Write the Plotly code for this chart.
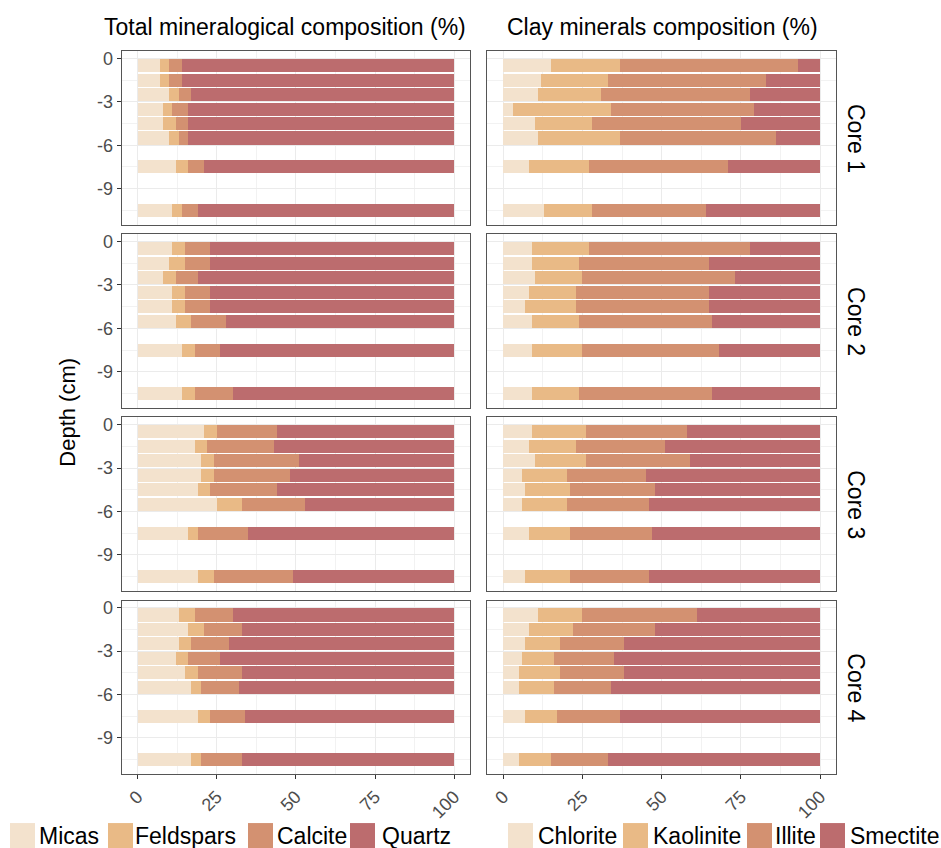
import plotly.graph_objects as go

W, H = 941, 848

cores = ["Core 1", "Core 2", "Core 3", "Core 4"]
depths = [-0.5, -1.5, -2.5, -3.5, -4.5, -5.5, -7.5, -10.5]
x_ticks = [0, 25, 50, 75, 100]
y_ticks = [0, -3, -6, -9]

total_names = ["Micas", "Feldspars", "Calcite", "Quartz"]
clay_names = ["Chlorite", "Kaolinite", "Illite", "Smectite"]
colors = ["#F3E2CD", "#E9BA86", "#D39171", "#BC6C6E"]

micas = [
    [7, 7, 10, 8, 8, 10, 12, 11],
    [11, 10, 8, 11, 11, 12, 14, 14],
    [21, 18, 20, 20, 19, 25, 16, 19],
    [13, 16, 13, 12, 15, 17, 19, 17],
]
feldspars = [
    [3, 3, 3, 3, 4, 3, 4, 3],
    [4, 5, 4, 4, 4, 5, 4, 4],
    [4, 4, 4, 4, 4, 8, 3, 5],
    [5, 5, 4, 4, 4, 3, 4, 3],
]
calcite = [
    [4, 4, 4, 5, 4, 3, 5, 5],
    [8, 8, 7, 8, 8, 11, 8, 12],
    [19, 21, 27, 24, 21, 20, 16, 25],
    [12, 12, 12, 10, 14, 12, 11, 13],
]
quartz = [
    [86, 86, 83, 84, 84, 84, 79, 81],
    [77, 77, 81, 77, 77, 72, 74, 70],
    [56, 57, 49, 52, 56, 47, 65, 51],
    [70, 67, 71, 74, 67, 68, 66, 67],
]

chlorite = [
    [15, 12, 11, 3, 10, 11, 8, 13],
    [9, 9, 10, 8, 7, 9, 9, 9],
    [9, 8, 10, 6, 7, 6, 8, 7],
    [11, 8, 7, 6, 5, 5, 7, 5],
]
kaolinite = [
    [22, 21, 20, 31, 18, 26, 19, 15],
    [18, 15, 15, 15, 16, 15, 16, 15],
    [17, 15, 16, 14, 14, 14, 13, 14],
    [14, 14, 11, 10, 13, 11, 10, 10],
]
illite = [
    [56, 50, 47, 45, 47, 49, 44, 36],
    [51, 41, 48, 42, 42, 42, 43, 42],
    [32, 28, 33, 25, 27, 26, 26, 25],
    [36, 26, 20, 19, 20, 18, 20, 18],
]
smectite = [
    [7, 17, 22, 21, 25, 14, 29, 36],
    [22, 35, 27, 35, 35, 34, 32, 34],
    [42, 49, 41, 55, 52, 54, 53, 54],
    [39, 52, 62, 65, 62, 66, 63, 67],
]

total_series = [micas, feldspars, calcite, quartz]
clay_series = [chlorite, kaolinite, illite, smectite]

FONT = "Liberation Sans, Arial, sans-serif"
TICKC = "#4D4D4D"

def px_x(p):
    return p / W

def px_y(p):
    return 1 - p / H

col_dom = [(121.7, 470.0), (487.3, 836.0)]
panel_top0, panel_h, gap = 49.3, 174.05, 9.5
row_dom = []
for i in range(4):
    t = panel_top0 + i * (panel_h + gap)
    row_dom.append((t, t + panel_h))

fig = go.Figure()
layout = dict(
    width=W, height=H,
    margin=dict(l=0, r=0, t=0, b=0),
    paper_bgcolor="white", plot_bgcolor="white",
    barmode="stack", showlegend=False,
    font=dict(family=FONT, size=18, color="black"),
)

for i in range(4):
    for c in range(2):
        idx = i * 2 + c + 1
        xname = "x" if idx == 1 else f"x{idx}"
        yname = "y" if idx == 1 else f"y{idx}"
        series = total_series if c == 0 else clay_series
        names = total_names if c == 0 else clay_names
        for k in range(4):
            fig.add_trace(go.Bar(
                x=series[k][i], y=depths, orientation="h",
                width=0.9, name=names[k],
                marker=dict(color=colors[k], line=dict(width=0)),
                xaxis=xname, yaxis=yname, showlegend=False,
            ))
        xd = col_dom[c]
        yd = row_dom[i]
        bottom = (i == 3)
        layout["xaxis" if idx == 1 else f"xaxis{idx}"] = dict(
            domain=[px_x(xd[0]), px_x(xd[1])], anchor=yname,
            range=[-5, 105], tickvals=x_ticks,
            ticktext=[str(v) for v in x_ticks],
            showticklabels=bottom, ticks="outside" if bottom else "",
            ticklen=4, tickcolor="#333333", tickangle=-45,
            tickfont=dict(size=18, color=TICKC, family=FONT),
            showgrid=True, gridcolor="#EBEBEB", gridwidth=1,
            minor=dict(tickmode="linear", tick0=0, dtick=12.5,
                       showgrid=True, gridcolor="#F2F2F2", gridwidth=1),
            showline=True, mirror=True, linecolor="#555555", linewidth=1,
            zeroline=False, fixedrange=True,
        )
        layout["yaxis" if idx == 1 else f"yaxis{idx}"] = dict(
            domain=[px_y(yd[1]), px_y(yd[0])], anchor=xname,
            range=[-11.5, 0.5], tickvals=y_ticks,
            ticktext=[str(v) for v in y_ticks],
            showticklabels=(c == 0), ticks="outside" if c == 0 else "",
            ticklen=4, tickcolor="#333333",
            tickfont=dict(size=18, color=TICKC, family=FONT),
            showgrid=True, gridcolor="#EBEBEB", gridwidth=1,
            minor=dict(tickmode="linear", tick0=0, dtick=1.5,
                       showgrid=True, gridcolor="#F2F2F2", gridwidth=1),
            showline=True, mirror=True, linecolor="#555555", linewidth=1,
            zeroline=False, fixedrange=True,
        )

annotations = []
# column titles
annotations.append(dict(text="Total mineralogical composition (%)", x=px_x(285), y=px_y(25),
                        xref="paper", yref="paper", showarrow=False,
                        xanchor="center", yanchor="middle", font=dict(size=23, family=FONT)))
annotations.append(dict(text="Clay minerals composition (%)", x=px_x(662), y=px_y(25),
                        xref="paper", yref="paper", showarrow=False,
                        xanchor="center", yanchor="middle", font=dict(size=23, family=FONT)))
# y title
annotations.append(dict(text="Depth (cm)", x=px_x(68), y=px_y(411.7), textangle=-90,
                        xref="paper", yref="paper", showarrow=False,
                        xanchor="center", yanchor="middle", font=dict(size=22, family=FONT)))
# strips
for i, name in enumerate(cores):
    t, b = row_dom[i]
    annotations.append(dict(text=name, x=px_x(856), y=px_y((t + b) / 2), textangle=90,
                            xref="paper", yref="paper", showarrow=False,
                            xanchor="center", yanchor="middle", font=dict(size=23, family=FONT)))

# legends (keys + labels)
shapes = []
leg_key_x = [[10, 108, 248, 350], [508, 623, 747, 820]]
leg_txt_x = [[39, 135, 277, 382], [538, 653, 775, 850]]
for c, names in enumerate([total_names, clay_names]):
    for k, nm in enumerate(names):
        kx = leg_key_x[c][k]
        shapes.append(dict(type="rect", xref="paper", yref="paper",
                           x0=px_x(kx), x1=px_x(kx + 25), y0=px_y(848), y1=px_y(823),
                           fillcolor=colors[k], line=dict(width=0)))
        annotations.append(dict(text=nm, x=px_x(leg_txt_x[c][k] - 2), y=px_y(836),
                                xref="paper", yref="paper", showarrow=False,
                                xanchor="left", yanchor="middle",
                                font=dict(size=23, family=FONT)))

layout["annotations"] = annotations
layout["shapes"] = shapes
fig.update_layout(**layout)
fig.write_html("out.html")
